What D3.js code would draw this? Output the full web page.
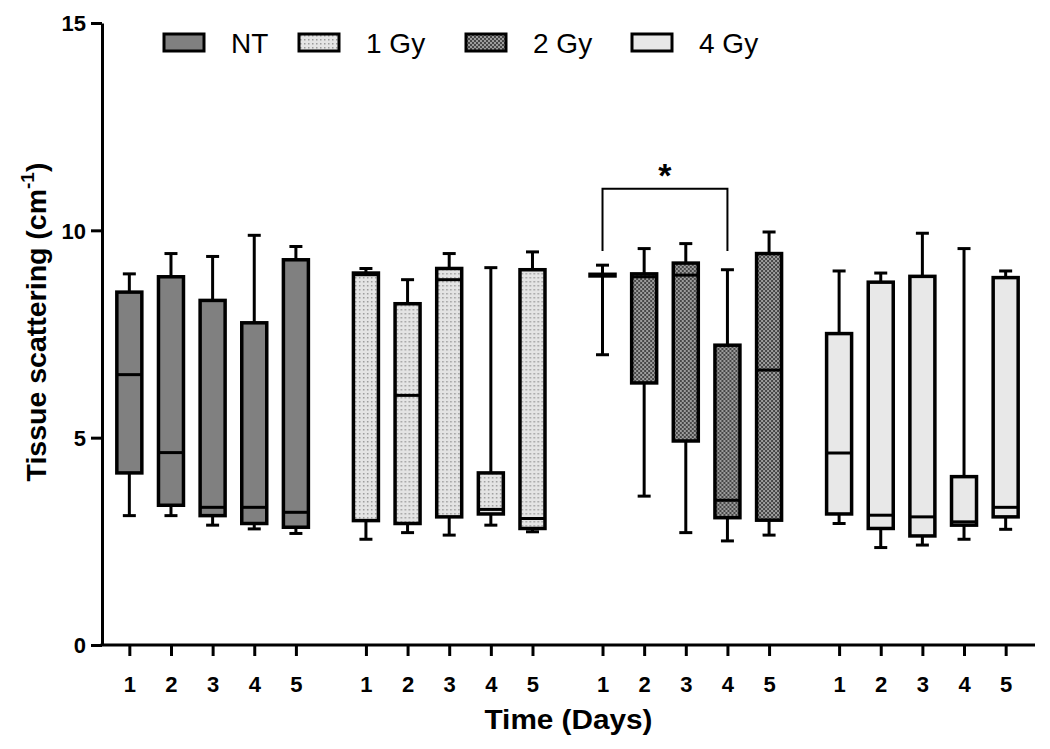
<!DOCTYPE html>
<html>
<head>
<meta charset="utf-8">
<script src="https://cdn.jsdelivr.net/npm/d3@7"></script>
<style>
  body { margin: 0; background: #fff; }
  svg { display: block; font-family: "Liberation Sans", Arial, sans-serif; }
</style>
</head>
<body>
<svg id="chart" width="1050" height="749"></svg>
<script>
// groups (treatments) and days
const groups = ["NT", "1 Gy", "2 Gy", "4 Gy"];
const days = [1, 2, 3, 4, 5];
const yTicks = [0, 5, 10, 15];

// box stats per day: [min, q1, median, q3, max]
const ntStats = [
  [3.12, 4.15, 6.52, 8.51, 8.95],
  [3.12, 3.37, 4.64, 8.88, 9.44],
  [2.89, 3.12, 3.32, 8.31, 9.37],
  [2.80, 2.93, 3.32, 7.77, 9.88],
  [2.69, 2.84, 3.20, 9.29, 9.61]
];
const gy1Stats = [
  [2.55, 3.00, 8.93, 8.97, 9.08],
  [2.71, 2.93, 6.02, 8.23, 8.81],
  [2.65, 3.09, 8.81, 9.08, 9.44],
  [2.89, 3.16, 3.27, 4.15, 9.10],
  [2.73, 2.81, 3.05, 9.05, 9.48]
];
const gy2Stats = [
  [7.00, 8.90, 8.92, 8.94, 9.16],
  [3.59, 6.32, 8.88, 8.95, 9.56],
  [2.71, 4.92, 8.92, 9.21, 9.68],
  [2.51, 3.07, 3.49, 7.23, 9.05],
  [2.65, 3.01, 6.63, 9.44, 9.96]
];
const gy4Stats = [
  [2.93, 3.16, 4.63, 7.51, 9.02],
  [2.35, 2.81, 3.13, 8.75, 8.97],
  [2.41, 2.63, 3.09, 8.89, 9.93],
  [2.55, 2.89, 2.97, 4.06, 9.56],
  [2.79, 3.09, 3.32, 8.86, 9.02]
];
const statsByGroup = [ntStats, gy1Stats, gy2Stats, gy4Stats];

// significance bracket (2 Gy, day 1 vs day 4)
const sigGroup = "2 Gy";
const sigDays = [1, 4];
const sigLevel = 11.0;
const sigDrop = 9.5;

const svg = d3.select("#chart");
const defs = svg.append("defs");

// dotted light pattern (1 Gy)
const p1 = defs.append("pattern").attr("id", "pat1")
  .attr("patternUnits", "userSpaceOnUse").attr("width", 4).attr("height", 4);
p1.append("rect").attr("width", 4).attr("height", 4).attr("fill", "#e4e4e4");
p1.append("rect").attr("x", 1).attr("y", 1).attr("width", 1.5).attr("height", 1.5).attr("fill", "#9a9a9a");

// dark checker pattern (2 Gy)
const p2 = defs.append("pattern").attr("id", "pat2")
  .attr("patternUnits", "userSpaceOnUse").attr("width", 4).attr("height", 4);
p2.append("rect").attr("width", 4).attr("height", 4).attr("fill", "#474747");
p2.append("rect").attr("x", 0).attr("y", 0).attr("width", 2).attr("height", 2).attr("fill", "#9c9c9c");
p2.append("rect").attr("x", 2).attr("y", 2).attr("width", 2).attr("height", 2).attr("fill", "#9c9c9c");

const fills = {
  "NT": "#808080",
  "1 Gy": "url(#pat1)",
  "2 Gy": "url(#pat2)",
  "4 Gy": "#e8e8e8"
};

const axisX = 102, axisBottom = 645;

const y = d3.scaleLinear().domain([0, 15]).range([axisBottom, 23]);

const xGroup = d3.scaleBand().domain(groups)
  .range([100, 1035]).paddingInner(0.12).paddingOuter(0.036);
const xDay = d3.scalePoint().domain(days)
  .range([0, xGroup.bandwidth()]).padding(0.5);

const boxW = 25, capW = 13, lw = 3;

// y axis
const yAxis = svg.append("g")
  .attr("transform", `translate(${axisX},0)`)
  .call(d3.axisLeft(y).tickValues(yTicks).tickSize(11).tickSizeOuter(0).tickPadding(5));
yAxis.select(".domain").attr("stroke-width", lw);
yAxis.selectAll(".tick line").attr("stroke-width", lw);
yAxis.selectAll("text").attr("font-size", 22).attr("font-weight", "bold").attr("fill", "#000")
  .attr("dy", "0.35em");

// x axis line
svg.append("line")
  .attr("x1", axisX - 1.5).attr("x2", xGroup.range()[1])
  .attr("y1", axisBottom).attr("y2", axisBottom)
  .attr("stroke", "#000").attr("stroke-width", lw);

// x ticks per group
groups.forEach(g => {
  const ax = svg.append("g")
    .attr("transform", `translate(${xGroup(g)},${axisBottom})`)
    .call(d3.axisBottom(xDay).tickSize(11).tickSizeOuter(0).tickPadding(20));
  ax.select(".domain").remove();
  ax.selectAll(".tick line").attr("stroke-width", lw);
  ax.selectAll("text").attr("font-size", 22).attr("font-weight", "bold").attr("fill", "#000");
});

// boxes
groups.forEach((g, gi) => {
  const gg = svg.append("g").attr("transform", `translate(${xGroup(g)},0)`);
  const stats = statsByGroup[gi];
  const box = gg.selectAll("g.box").data(stats).join("g")
    .attr("class", "box")
    .attr("transform", (d, i) => `translate(${xDay(days[i])},0)`);

  // whisker
  box.append("line")
    .attr("x1", 0).attr("x2", 0)
    .attr("y1", d => y(d[0])).attr("y2", d => y(d[4]))
    .attr("stroke", "#000").attr("stroke-width", lw);
  // caps
  [0, 4].forEach(k => {
    box.append("line")
      .attr("x1", -capW / 2).attr("x2", capW / 2)
      .attr("y1", d => y(d[k])).attr("y2", d => y(d[k]))
      .attr("stroke", "#000").attr("stroke-width", lw);
  });
  // box
  box.append("rect")
    .attr("x", -boxW / 2).attr("width", boxW)
    .attr("y", d => y(d[3])).attr("height", d => Math.max(0.5, y(d[1]) - y(d[3])))
    .attr("fill", fills[g]).attr("stroke", "#000").attr("stroke-width", lw + 0.5);
  // median
  box.append("line")
    .attr("x1", -boxW / 2).attr("x2", boxW / 2)
    .attr("y1", d => y(d[2])).attr("y2", d => y(d[2]))
    .attr("stroke", "#000").attr("stroke-width", lw);
});

// significance bracket
const bx1 = xGroup(sigGroup) + xDay(sigDays[0]);
const bx2 = xGroup(sigGroup) + xDay(sigDays[1]);
svg.append("path")
  .attr("d", `M${bx1},${y(sigDrop)}V${y(sigLevel)}H${bx2}V${y(sigDrop)}`)
  .attr("fill", "none").attr("stroke", "#000").attr("stroke-width", 2);
svg.append("text")
  .attr("x", (bx1 + bx2) / 2).attr("y", y(sigLevel) - 2)
  .attr("text-anchor", "middle")
  .attr("font-size", 34).attr("font-weight", "bold")
  .text("*");

// axis titles
svg.append("text")
  .attr("x", (axisX + xGroup.range()[1]) / 2).attr("y", 729)
  .attr("text-anchor", "middle")
  .attr("font-size", 27).attr("font-weight", "bold")
  .attr("textLength", 168).attr("lengthAdjust", "spacingAndGlyphs")
  .text("Time (Days)");

const yt = svg.append("text")
  .attr("transform", `translate(46,322) rotate(-90)`)
  .attr("text-anchor", "middle")
  .attr("font-size", 28.5).attr("font-weight", "bold");
yt.append("tspan").text("Tissue scattering (cm");
yt.append("tspan").attr("font-size", 19).attr("dy", -12).text("-1");
yt.append("tspan").attr("dy", 12).text(")");

// legend
const legendX = [164, 299, 466, 632];
const leg = svg.append("g").selectAll("g").data(groups).join("g")
  .attr("transform", (d, i) => `translate(${legendX[i]},34)`);
leg.append("rect")
  .attr("width", 40).attr("height", 17)
  .attr("fill", d => fills[d]).attr("stroke", "#000").attr("stroke-width", lw);
leg.append("text")
  .attr("x", 67).attr("y", 19)
  .attr("font-size", 28)
  .text(d => d);
</script>
</body>
</html>
